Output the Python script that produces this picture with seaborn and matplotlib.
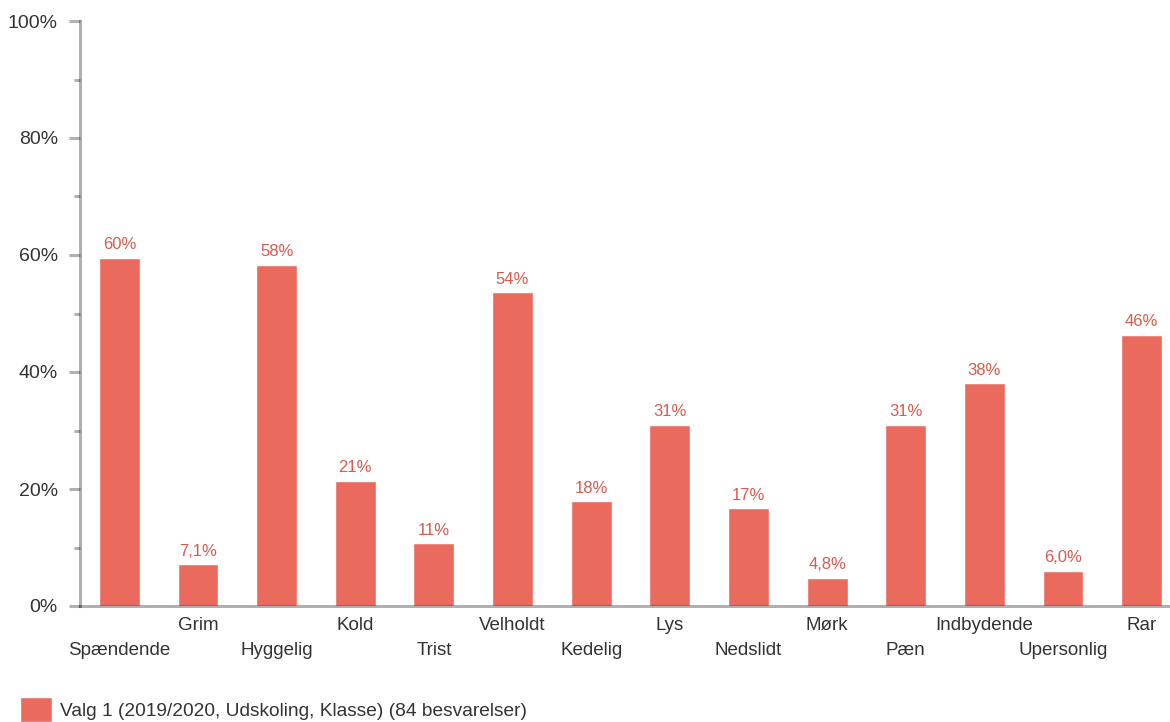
import matplotlib
matplotlib.use("Agg")
import matplotlib.pyplot as plt
from matplotlib.patches import Patch
from matplotlib.ticker import MultipleLocator, FuncFormatter
import seaborn as sns
import pandas as pd

categories = ["Spændende", "Grim", "Hyggelig", "Kold", "Trist", "Velholdt", "Kedelig",
              "Lys", "Nedslidt", "Mørk", "Pæn", "Indbydende", "Upersonlig", "Rar"]
values = [59.5, 7.1, 58.3, 21.4, 10.7, 53.6, 17.9, 31.0, 16.7, 4.8, 31.0, 38.1, 6.0, 46.4]
series_name = "Valg 1 (2019/2020, Udskoling, Klasse) (84 besvarelser)"

bar_color = "#EA6A5E"
label_color = "#D95A4E"
text_color = "#333333"
axis_color = (0, 0, 0, 0.31)

sns.set_style("white")
plt.rcParams["font.family"] = ["Liberation Sans", "DejaVu Sans"]

df = pd.DataFrame({"category": categories, "value": values})

fig = plt.figure(figsize=(11.7, 7.22), dpi=100)
ax = fig.add_axes([80 / 1170, 1 - 606 / 722, 1 - 80 / 1170, (606 - 21) / 722])

sns.barplot(data=df, x="category", y="value", color=bar_color, saturation=1,
            width=0.52, ax=ax)

def fmt_val(v):
    if v < 10:
        return f"{v:.1f}".replace(".", ",") + "%"
    return f"{round(v):.0f}%"

ax.bar_label(ax.containers[0], labels=[fmt_val(v) for v in values],
             padding=4, color=label_color, fontsize=12)

ax.set_ylim(0, 100)
ax.set_xlim(-0.5, len(categories) - 1 + 0.36)
ax.yaxis.set_major_locator(MultipleLocator(20))
ax.yaxis.set_minor_locator(MultipleLocator(10))
ax.yaxis.set_major_formatter(FuncFormatter(lambda v, p: f"{v:.0f}%"))

# alternate the category labels on two rows
odd = list(range(1, len(categories), 2))
even = list(range(0, len(categories), 2))
ax.set_xticks(odd, [categories[i] for i in odd])
ax.set_xticks(even, [categories[i] for i in even], minor=True)
ax.tick_params(axis="x", which="major", length=0, pad=8, labelsize=13.5, labelcolor=text_color)
ax.tick_params(axis="x", which="minor", length=0, pad=26, labelsize=13.5, labelcolor=text_color)
ax.tick_params(axis="y", which="both", left=True)
ax.tick_params(axis="y", which="major", length=8, width=2.2, color=axis_color,
               pad=8, labelsize=14, labelcolor=text_color)
ax.tick_params(axis="y", which="minor", length=4, width=2.2, color=axis_color)

ax.set_xlabel("")
ax.set_ylabel("")
for side in ["top", "right"]:
    ax.spines[side].set_visible(False)
for side in ["left", "bottom"]:
    ax.spines[side].set_color(axis_color)
    ax.spines[side].set_linewidth(2.2)
    ax.spines[side].set_zorder(3)

fig.legend(handles=[Patch(facecolor=bar_color, label=series_name)],
           loc="upper left", bbox_to_anchor=(20 / 1170, 1 - 697 / 722),
           frameon=False, fontsize=13.8, handlelength=1.65, handleheight=1.65,
           handletextpad=0.45, borderpad=0, borderaxespad=0, labelcolor=text_color)

fig.savefig("out.png", dpi=100)
